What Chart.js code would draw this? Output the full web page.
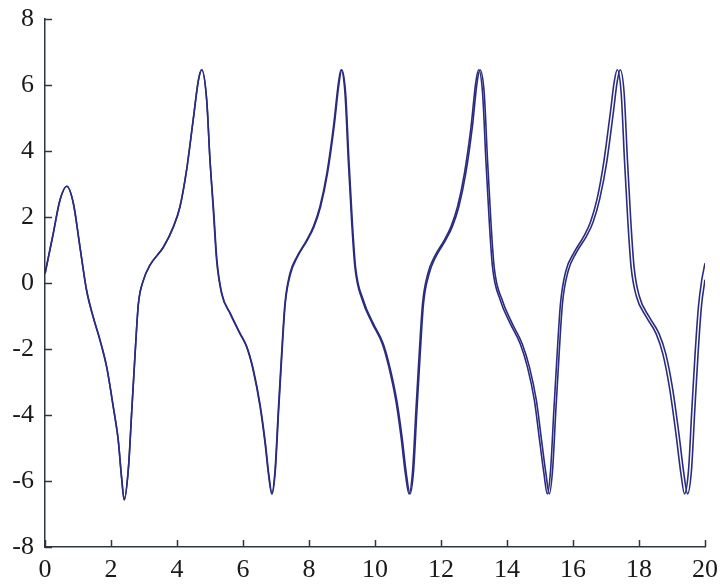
<!DOCTYPE html>
<html>
<head>
<meta charset="utf-8">
<script src="https://cdn.jsdelivr.net/npm/chart.js@4/dist/chart.umd.min.js"></script>
<style>
  html, body { margin: 0; padding: 0; background: #fff; }
  #wrap { width: 720px; height: 587px; }
</style>
</head>
<body>
<div id="wrap"><canvas id="chart" width="720" height="587"></canvas></div>
<script>
// tick values
const xTicks = [0, 2, 4, 6, 8, 10, 12, 14, 16, 18, 20];
const yTicks = [-8, -6, -4, -2, 0, 2, 4, 6, 8];

// series A (leading curve)
const timeA = [
  0, 0.25, 0.45, 0.66, 0.86, 1.06, 1.26, 1.46, 1.67, 1.87, 2.07, 2.22, 2.32, 2.40, 2.53, 2.63, 2.73, 2.83, 2.98, 3.18, 3.59, 3.89, 4.09, 4.29, 4.49, 4.65, 4.75,
  4.90, 5.00, 5.10, 5.20, 5.35, 5.61, 5.91, 6.11, 6.31, 6.52, 6.67, 6.77, 6.87, 6.97, 7.07, 7.17, 7.27, 7.42, 7.63, 7.93, 8.13, 8.33, 8.54, 8.74, 8.89, 8.97,
  9.09, 9.19, 9.29, 9.39, 9.62, 9.92, 10.22, 10.42, 10.63, 10.79, 10.92, 11.03, 11.14, 11.24, 11.34, 11.44, 11.60, 11.80, 12.10, 12.30, 12.50, 12.71, 12.91, 13.05, 13.14,
  13.26, 13.36, 13.46, 13.56, 13.80, 14.10, 14.40, 14.62, 14.83, 15.00, 15.12, 15.22, 15.32, 15.42, 15.52, 15.62, 15.78, 16.03, 16.33, 16.53, 16.73, 16.93, 17.13, 17.25, 17.34,
  17.46, 17.56, 17.66, 17.76, 17.92, 18.22, 18.52, 18.72, 18.92, 19.12, 19.27, 19.38, 19.50, 19.60, 19.70, 19.80, 19.90, 20.00
];
const valueA = [
  0.28, 1.5, 2.5, 2.93, 2.41, 1.09, -0.22, -1.03, -1.74, -2.55, -3.76, -4.77, -5.89, -6.57, -5.58, -3.86, -2.14, -0.63, 0.08, 0.54, 1.09, 1.70, 2.31, 3.42, 4.94, 6.15, 6.46,
  5.54, 3.72, 2.21, 0.69, -0.32, -0.93, -1.54, -1.94, -2.65, -3.76, -4.87, -5.78, -6.39, -5.68, -3.86, -2.14, -0.63, 0.28, 0.79, 1.30, 1.70, 2.31, 3.32, 4.73, 6.05, 6.46,
  5.75, 3.72, 1.90, 0.49, -0.53, -1.23, -1.84, -2.55, -3.56, -4.67, -5.78, -6.39, -5.68, -3.86, -2.14, -0.63, 0.28, 0.79, 1.30, 1.70, 2.31, 3.32, 4.73, 6.05, 6.46,
  5.75, 3.72, 1.90, 0.49, -0.53, -1.23, -1.84, -2.55, -3.56, -4.87, -5.78, -6.39, -5.68, -3.86, -2.14, -0.63, 0.35, 0.92, 1.42, 1.85, 2.55, 3.65, 5.15, 6.10, 6.46,
  5.75, 3.72, 1.90, 0.49, -0.40, -1.03, -1.54, -2.14, -3.15, -4.57, -5.78, -6.39, -5.68, -3.86, -2.14, -0.73, 0.08, 0.60
];

// series B (lagging curve)
const timeB = [
  0, 0.25, 0.45, 0.66, 0.86, 1.06, 1.26, 1.46, 1.67, 1.87, 2.07, 2.22, 2.32, 2.40, 2.53, 2.63, 2.73, 2.83, 2.98, 3.18, 3.59, 3.89, 4.09, 4.29, 4.49, 4.65, 4.75,
  4.90, 5.00, 5.11, 5.21, 5.36, 5.62, 5.92, 6.12, 6.32, 6.53, 6.68, 6.78, 6.88, 6.98, 7.08, 7.18, 7.28, 7.44, 7.65, 7.95, 8.15, 8.35, 8.56, 8.76, 8.91, 8.99,
  9.11, 9.21, 9.31, 9.41, 9.65, 9.95, 10.25, 10.45, 10.66, 10.82, 10.95, 11.06, 11.17, 11.27, 11.37, 11.47, 11.64, 11.84, 12.14, 12.34, 12.54, 12.75, 12.95, 13.09, 13.18,
  13.31, 13.41, 13.51, 13.61, 13.86, 14.16, 14.46, 14.68, 14.89, 15.06, 15.18, 15.28, 15.38, 15.48, 15.58, 15.68, 15.85, 16.10, 16.41, 16.61, 16.81, 17.02, 17.22, 17.34, 17.43,
  17.55, 17.65, 17.75, 17.85, 18.01, 18.31, 18.61, 18.81, 19.01, 19.21, 19.36, 19.47, 19.59, 19.69, 19.79, 19.89, 20.00
];
const valueB = [
  0.28, 1.5, 2.5, 2.93, 2.41, 1.09, -0.22, -1.03, -1.74, -2.55, -3.76, -4.77, -5.89, -6.57, -5.58, -3.86, -2.14, -0.63, 0.08, 0.54, 1.09, 1.70, 2.31, 3.42, 4.94, 6.15, 6.46,
  5.54, 3.72, 2.21, 0.69, -0.32, -0.93, -1.54, -1.94, -2.65, -3.76, -4.87, -5.78, -6.39, -5.68, -3.86, -2.14, -0.63, 0.28, 0.79, 1.30, 1.70, 2.31, 3.32, 4.73, 6.05, 6.46,
  5.75, 3.72, 1.90, 0.49, -0.53, -1.23, -1.84, -2.55, -3.56, -4.67, -5.78, -6.39, -5.68, -3.86, -2.14, -0.63, 0.28, 0.79, 1.30, 1.70, 2.31, 3.32, 4.73, 6.05, 6.46,
  5.75, 3.72, 1.90, 0.49, -0.53, -1.23, -1.84, -2.55, -3.56, -4.87, -5.78, -6.39, -5.68, -3.86, -2.14, -0.63, 0.35, 0.92, 1.42, 1.85, 2.55, 3.65, 5.15, 6.10, 6.46,
  5.75, 3.72, 1.90, 0.49, -0.40, -1.03, -1.54, -2.14, -3.15, -4.57, -5.78, -6.39, -5.68, -3.86, -2.14, -0.73, 0.10
];

const LINE = '#2b2c80';
const AXIS = '#2f3640';
const FONT = { family: '"Liberation Serif", "Times New Roman", serif', size: 26 };

const toPoints = (xs, ys) => xs.map((x, i) => ({ x, y: ys[i] }));

// short tick marks pointing into the plot area
const innerTicks = {
  id: 'innerTicks',
  afterDraw(chart) {
    const { ctx, chartArea: a, scales } = chart;
    ctx.save();
    ctx.strokeStyle = AXIS;
    ctx.lineWidth = 1.5;
    ctx.beginPath();
    yTicks.forEach(v => {
      const py = Math.round(scales.y.getPixelForValue(v)) + 0.5;
      ctx.moveTo(a.left, py);
      ctx.lineTo(a.left + 7, py);
    });
    xTicks.forEach(v => {
      const px = Math.round(scales.x.getPixelForValue(v)) + 0.5;
      ctx.moveTo(px, a.bottom);
      ctx.lineTo(px, a.bottom - 7);
    });
    ctx.stroke();
    ctx.restore();
  }
};

new Chart(document.getElementById('chart').getContext('2d'), {
  type: 'scatter',
  data: {
    datasets: [
      { label: 'A', data: toPoints(timeA, valueA) },
      { label: 'B', data: toPoints(timeB, valueB) }
    ].map(d => ({
      ...d,
      showLine: true,
      borderColor: LINE,
      borderWidth: 1.6,
      pointRadius: 0,
      cubicInterpolationMode: 'monotone',
      fill: false
    }))
  },
  options: {
    responsive: false,
    animation: false,
    layout: { padding: { top: 19, right: 15, left: 0, bottom: 0 } },
    plugins: { legend: { display: false }, tooltip: { enabled: false } },
    scales: {
      x: {
        type: 'linear',
        min: 0, max: 20,
        afterBuildTicks: s => { s.ticks = xTicks.map(v => ({ value: v })); },
        afterFit: s => { s.height = 40; s.paddingLeft = 0; s.paddingRight = 0; },
        grid: { display: false, drawTicks: false },
        border: { display: true, color: AXIS, width: 1.5 },
        ticks: { font: FONT, color: '#1a1a1a', padding: 8, maxRotation: 0 }
      },
      y: {
        type: 'linear',
        min: -8, max: 8,
        afterBuildTicks: s => { s.ticks = yTicks.map(v => ({ value: v })); },
        afterFit: s => { s.width = 45; s.paddingTop = 0; s.paddingBottom = 0; },
        grid: { display: false, drawTicks: false },
        border: { display: true, color: AXIS, width: 1.5 },
        ticks: { font: FONT, color: '#1a1a1a', padding: 11 }
      }
    }
  },
  plugins: [innerTicks]
});
</script>
</body>
</html>
